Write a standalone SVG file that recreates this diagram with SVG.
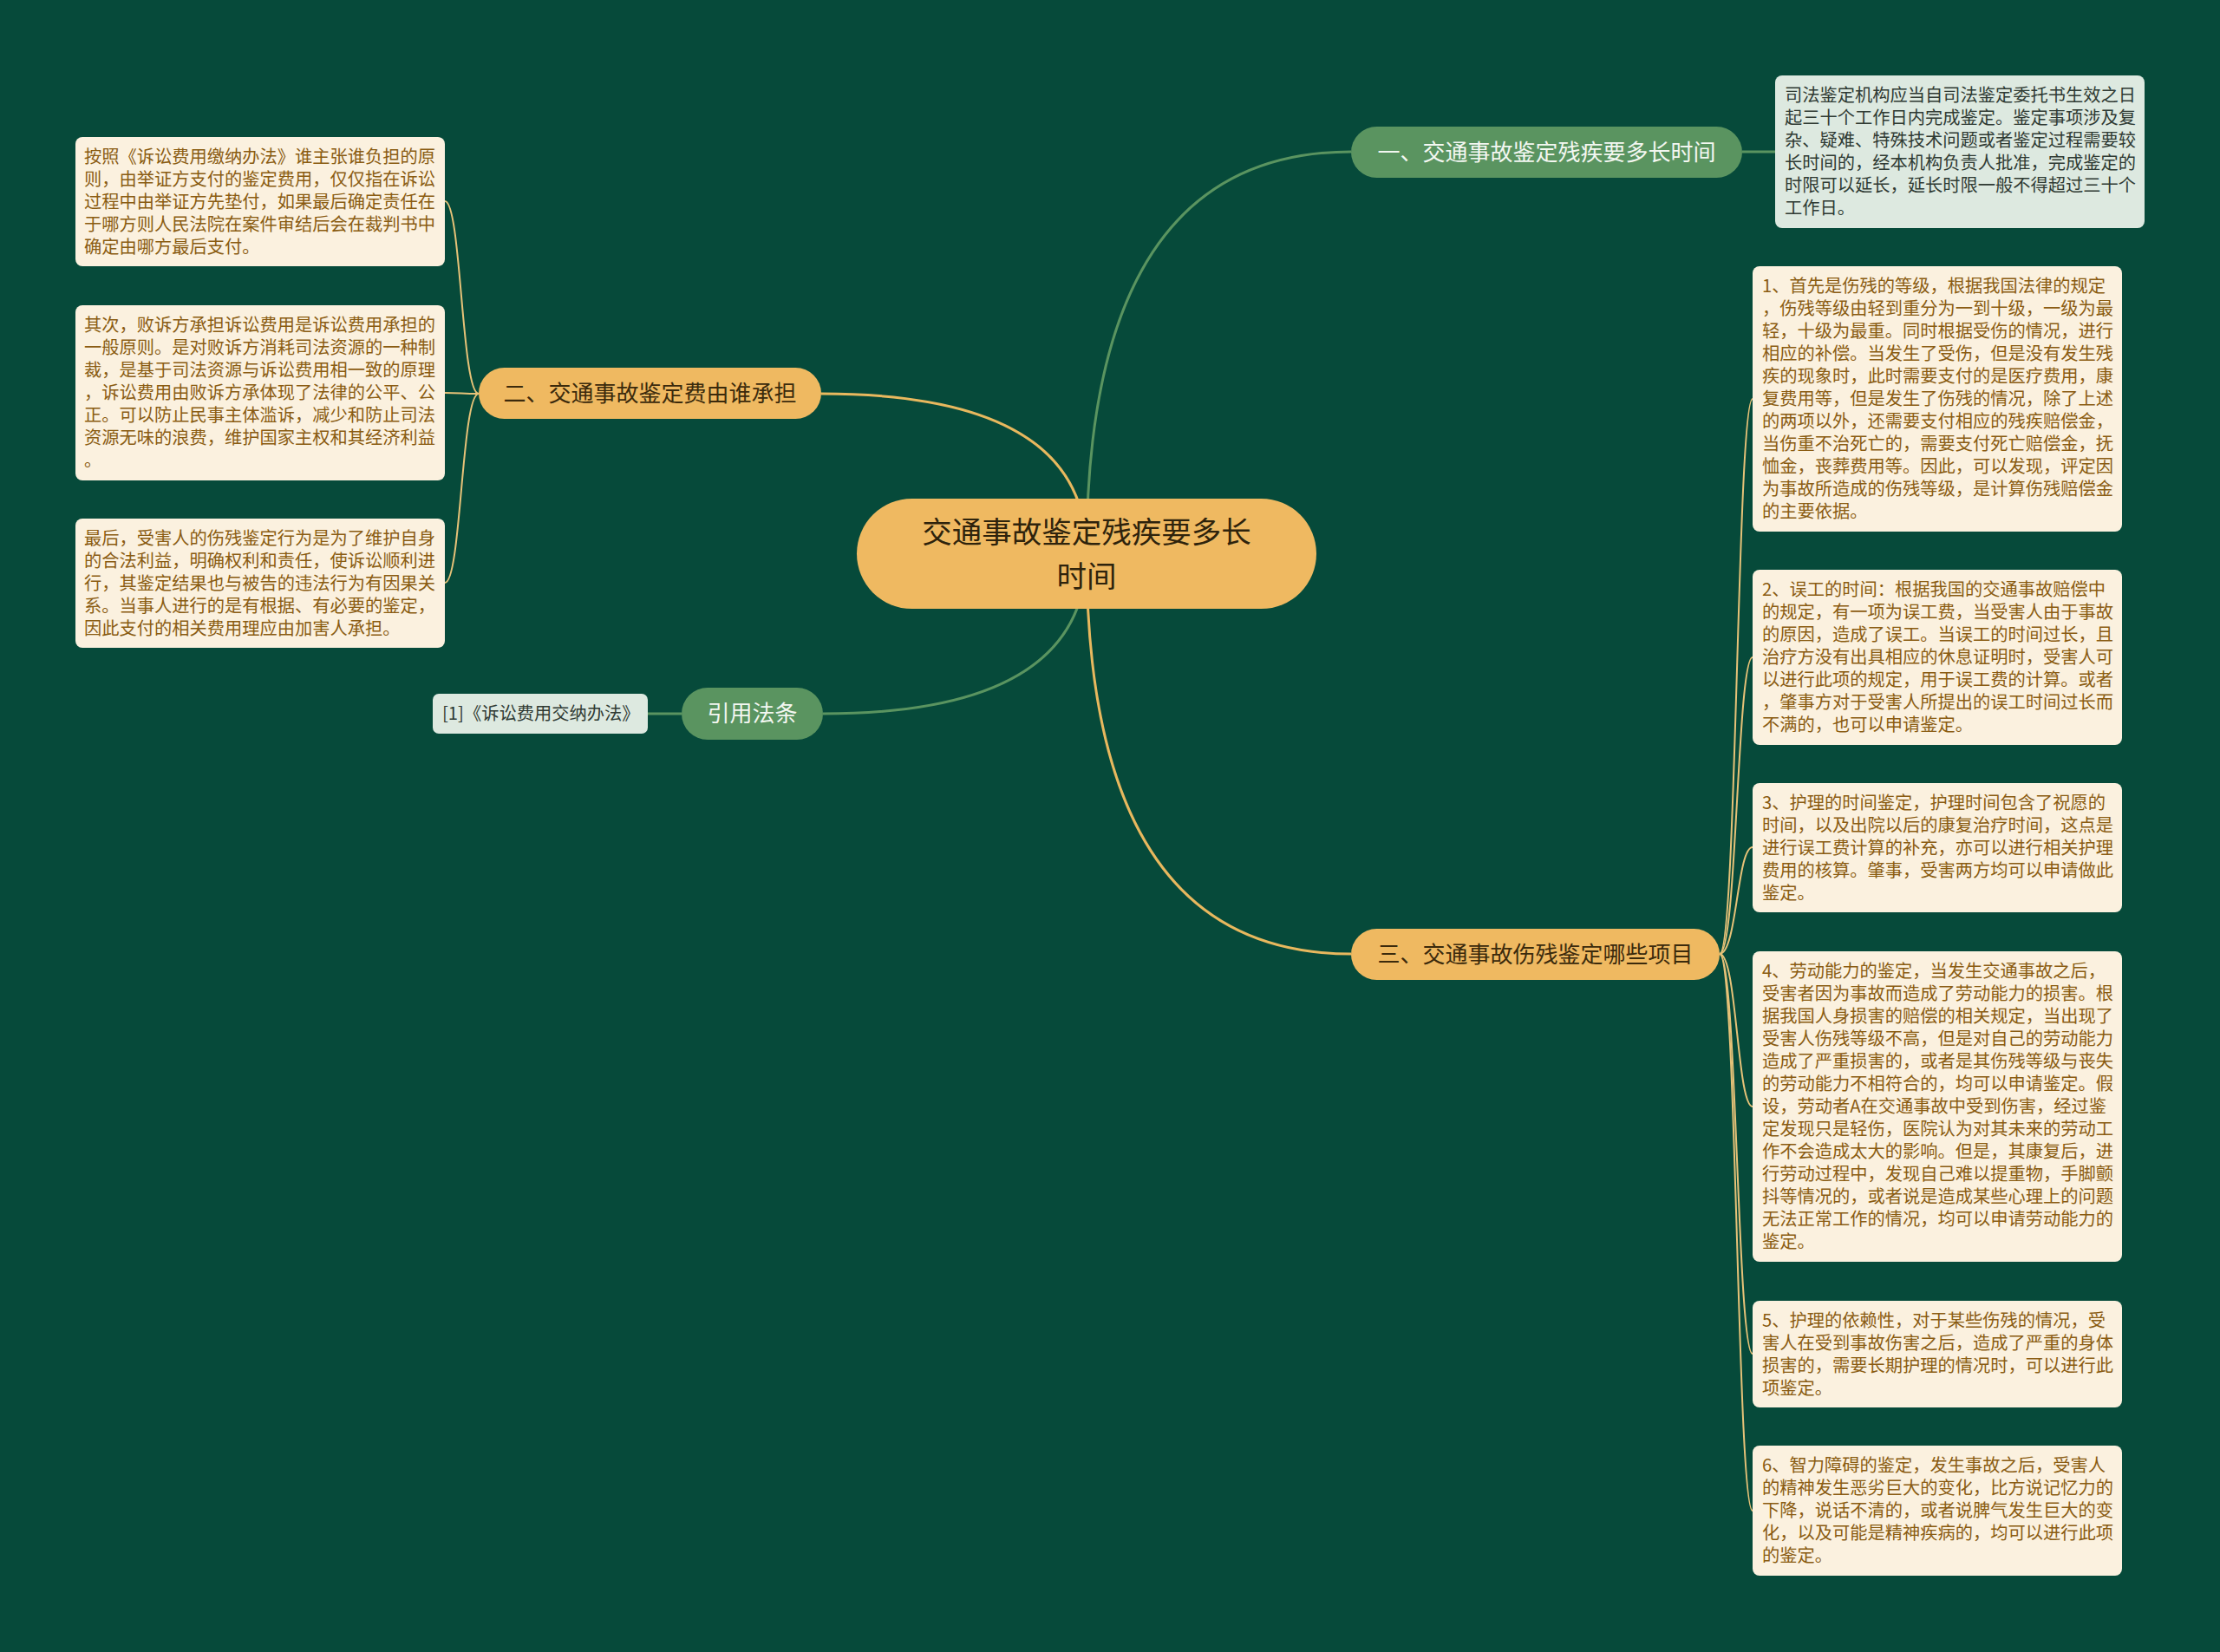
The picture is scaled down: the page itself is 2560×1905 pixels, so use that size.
<svg xmlns="http://www.w3.org/2000/svg" width="2560" height="1905" viewBox="0 0 2560 1905">
<style>
text{font-family:"Noto Sans CJK SC","Noto Sans",sans-serif;}
.box{fill:#fbf1df;}
.gbox{fill:#dde9e0;}
.bt{font-size:20.25px;fill:#8a5c12;}
.gt{font-size:20.25px;fill:#2f3a33;}
.pillg{fill:#5a9460;}
.pillo{fill:#efb961;}
.tg{font-size:26px;fill:#f3f7f1;}
.to{font-size:26px;fill:#3b2a0c;}
.lg{fill:none;stroke:#5a9460;stroke-width:3;}
.lo{fill:none;stroke:#e8b85e;stroke-width:3;}
.lo2{fill:none;stroke:#e6c278;stroke-width:2;}
.lg2{fill:none;stroke:#5a9460;stroke-width:3;}
</style>
<rect x="0" y="0" width="2560" height="1905" fill="#064a3a"/>
<g id="connectors">
<path class="lg" d="M1253,638 Q1253,175 1558,175"/>
<path class="lo" d="M1253,638 Q1253,454 947,454"/>
<path class="lg" d="M1253,638 Q1253,823 949,823"/>
<path class="lo" d="M1253,638 Q1253,1100 1558,1100"/>
<path class="lg2" d="M2009,175 L2047,175"/>
<path class="lg2" d="M747,823 L786,823"/>
<path class="lo2" d="M552,454 C532,454 532,232 513,232"/>
<path class="lo2" d="M552,454 C532,454 532,453 513,453"/>
<path class="lo2" d="M552,454 C532,454 532,672 513,672"/>
<path class="lo2" d="M1983,1100 C2003,1100 2003,460 2021,460"/>
<path class="lo2" d="M1983,1100 C2003,1100 2003,758 2021,758"/>
<path class="lo2" d="M1983,1100 C2003,1100 2003,977 2021,977"/>
<path class="lo2" d="M1983,1100 C2003,1100 2003,1276 2021,1276"/>
<path class="lo2" d="M1983,1100 C2003,1100 2003,1561 2021,1561"/>
<path class="lo2" d="M1983,1100 C2003,1100 2003,1742 2021,1742"/>
</g>
<g id="root">
<rect x="988" y="575" width="530" height="127" rx="63.5" fill="#efb961"/>
<text x="1253" y="626" font-size="34.5" fill="#2e230c" text-anchor="middle">交通事故鉴定残疾要多长</text>
<text x="1253" y="677" font-size="34.5" fill="#2e230c" text-anchor="middle">时间</text>
</g>
<g id="b1">
<rect class="pillg" x="1558" y="146" width="451" height="59" rx="29.5"/>
<text class="tg" x="1783.5" y="184.5" text-anchor="middle">一、交通事故鉴定残疾要多长时间</text>
</g>
<g id="b1-note">
<rect class="gbox" x="2047" y="87" width="426" height="176" rx="8"/>
<text class="gt"><tspan x="2058" y="117">司法鉴定机构应当自司法鉴定委托书生效之日</tspan><tspan x="2058" y="143">起三十个工作日内完成鉴定。鉴定事项涉及复</tspan><tspan x="2058" y="169">杂、疑难、特殊技术问题或者鉴定过程需要较</tspan><tspan x="2058" y="195">长时间的，经本机构负责人批准，完成鉴定的</tspan><tspan x="2058" y="221">时限可以延长，延长时限一般不得超过三十个</tspan><tspan x="2058" y="247">工作日。</tspan></text>
</g>
<g id="b2">
<rect class="pillo" x="552" y="424" width="395" height="59" rx="29.5"/>
<text class="to" x="749.5" y="463" text-anchor="middle">二、交通事故鉴定费由谁承担</text>
</g>
<g id="b2-a">
<rect class="box" x="87" y="158" width="426" height="149" rx="8"/>
<text class="bt"><tspan x="97" y="188">按照《诉讼费用缴纳办法》谁主张谁负担的原</tspan><tspan x="97" y="214">则，由举证方支付的鉴定费用，仅仅指在诉讼</tspan><tspan x="97" y="240">过程中由举证方先垫付，如果最后确定责任在</tspan><tspan x="97" y="266">于哪方则人民法院在案件审结后会在裁判书中</tspan><tspan x="97" y="292">确定由哪方最后支付。</tspan></text>
</g>
<g id="b2-b">
<rect class="box" x="87" y="352" width="426" height="202" rx="8"/>
<text class="bt"><tspan x="97" y="382">其次，败诉方承担诉讼费用是诉讼费用承担的</tspan><tspan x="97" y="408">一般原则。是对败诉方消耗司法资源的一种制</tspan><tspan x="97" y="434">裁，是基于司法资源与诉讼费用相一致的原理</tspan><tspan x="97" y="460">，诉讼费用由败诉方承体现了法律的公平、公</tspan><tspan x="97" y="486">正。可以防止民事主体滥诉，减少和防止司法</tspan><tspan x="97" y="512">资源无味的浪费，维护国家主权和其经济利益</tspan><tspan x="97" y="538">。</tspan></text>
</g>
<g id="b2-c">
<rect class="box" x="87" y="598" width="426" height="149" rx="8"/>
<text class="bt"><tspan x="97" y="628">最后，受害人的伤残鉴定行为是为了维护自身</tspan><tspan x="97" y="654">的合法利益，明确权利和责任，使诉讼顺利进</tspan><tspan x="97" y="680">行，其鉴定结果也与被告的违法行为有因果关</tspan><tspan x="97" y="706">系。当事人进行的是有根据、有必要的鉴定，</tspan><tspan x="97" y="732">因此支付的相关费用理应由加害人承担。</tspan></text>
</g>
<g id="b4">
<rect class="pillg" x="786" y="793" width="163" height="60" rx="30"/>
<text class="tg" x="867.5" y="832" text-anchor="middle">引用法条</text>
</g>
<g id="b4-ref">
<rect class="gbox" x="499" y="800" width="248" height="46" rx="7"/>
<text class="gt" x="510" y="830">[1]《诉讼费用交纳办法》</text>
</g>
<g id="b3">
<rect class="pillo" x="1558" y="1071" width="425" height="59" rx="29.5"/>
<text class="to" x="1770.5" y="1109.5" text-anchor="middle">三、交通事故伤残鉴定哪些项目</text>
</g>
<g id="b3-1">
<rect class="box" x="2021" y="307" width="426" height="306" rx="8"/>
<text class="bt"><tspan x="2032" y="337">1、首先是伤残的等级，根据我国法律的规定</tspan><tspan x="2032" y="363">，伤残等级由轻到重分为一到十级，一级为最</tspan><tspan x="2032" y="389">轻，十级为最重。同时根据受伤的情况，进行</tspan><tspan x="2032" y="415">相应的补偿。当发生了受伤，但是没有发生残</tspan><tspan x="2032" y="441">疾的现象时，此时需要支付的是医疗费用，康</tspan><tspan x="2032" y="467">复费用等，但是发生了伤残的情况，除了上述</tspan><tspan x="2032" y="493">的两项以外，还需要支付相应的残疾赔偿金，</tspan><tspan x="2032" y="519">当伤重不治死亡的，需要支付死亡赔偿金，抚</tspan><tspan x="2032" y="545">恤金，丧葬费用等。因此，可以发现，评定因</tspan><tspan x="2032" y="571">为事故所造成的伤残等级，是计算伤残赔偿金</tspan><tspan x="2032" y="597">的主要依据。</tspan></text>
</g>
<g id="b3-2">
<rect class="box" x="2021" y="657" width="426" height="202" rx="8"/>
<text class="bt"><tspan x="2032" y="687">2、误工的时间：根据我国的交通事故赔偿中</tspan><tspan x="2032" y="713">的规定，有一项为误工费，当受害人由于事故</tspan><tspan x="2032" y="739">的原因，造成了误工。当误工的时间过长，且</tspan><tspan x="2032" y="765">治疗方没有出具相应的休息证明时，受害人可</tspan><tspan x="2032" y="791">以进行此项的规定，用于误工费的计算。或者</tspan><tspan x="2032" y="817">，肇事方对于受害人所提出的误工时间过长而</tspan><tspan x="2032" y="843">不满的，也可以申请鉴定。</tspan></text>
</g>
<g id="b3-3">
<rect class="box" x="2021" y="903" width="426" height="149" rx="8"/>
<text class="bt"><tspan x="2032" y="933">3、护理的时间鉴定，护理时间包含了祝愿的</tspan><tspan x="2032" y="959">时间，以及出院以后的康复治疗时间，这点是</tspan><tspan x="2032" y="985">进行误工费计算的补充，亦可以进行相关护理</tspan><tspan x="2032" y="1011">费用的核算。肇事，受害两方均可以申请做此</tspan><tspan x="2032" y="1037">鉴定。</tspan></text>
</g>
<g id="b3-4">
<rect class="box" x="2021" y="1097" width="426" height="358" rx="8"/>
<text class="bt"><tspan x="2032" y="1127">4、劳动能力的鉴定，当发生交通事故之后，</tspan><tspan x="2032" y="1153">受害者因为事故而造成了劳动能力的损害。根</tspan><tspan x="2032" y="1179">据我国人身损害的赔偿的相关规定，当出现了</tspan><tspan x="2032" y="1205">受害人伤残等级不高，但是对自己的劳动能力</tspan><tspan x="2032" y="1231">造成了严重损害的，或者是其伤残等级与丧失</tspan><tspan x="2032" y="1257">的劳动能力不相符合的，均可以申请鉴定。假</tspan><tspan x="2032" y="1283">设，劳动者A在交通事故中受到伤害，经过鉴</tspan><tspan x="2032" y="1309">定发现只是轻伤，医院认为对其未来的劳动工</tspan><tspan x="2032" y="1335">作不会造成太大的影响。但是，其康复后，进</tspan><tspan x="2032" y="1361">行劳动过程中，发现自己难以提重物，手脚颤</tspan><tspan x="2032" y="1387">抖等情况的，或者说是造成某些心理上的问题</tspan><tspan x="2032" y="1413">无法正常工作的情况，均可以申请劳动能力的</tspan><tspan x="2032" y="1439">鉴定。</tspan></text>
</g>
<g id="b3-5">
<rect class="box" x="2021" y="1500" width="426" height="123" rx="8"/>
<text class="bt"><tspan x="2032" y="1530">5、护理的依赖性，对于某些伤残的情况，受</tspan><tspan x="2032" y="1556">害人在受到事故伤害之后，造成了严重的身体</tspan><tspan x="2032" y="1582">损害的，需要长期护理的情况时，可以进行此</tspan><tspan x="2032" y="1608">项鉴定。</tspan></text>
</g>
<g id="b3-6">
<rect class="box" x="2021" y="1667" width="426" height="150" rx="8"/>
<text class="bt"><tspan x="2032" y="1697">6、智力障碍的鉴定，发生事故之后，受害人</tspan><tspan x="2032" y="1723">的精神发生恶劣巨大的变化，比方说记忆力的</tspan><tspan x="2032" y="1749">下降，说话不清的，或者说脾气发生巨大的变</tspan><tspan x="2032" y="1775">化，以及可能是精神疾病的，均可以进行此项</tspan><tspan x="2032" y="1801">的鉴定。</tspan></text>
</g>
</svg>
